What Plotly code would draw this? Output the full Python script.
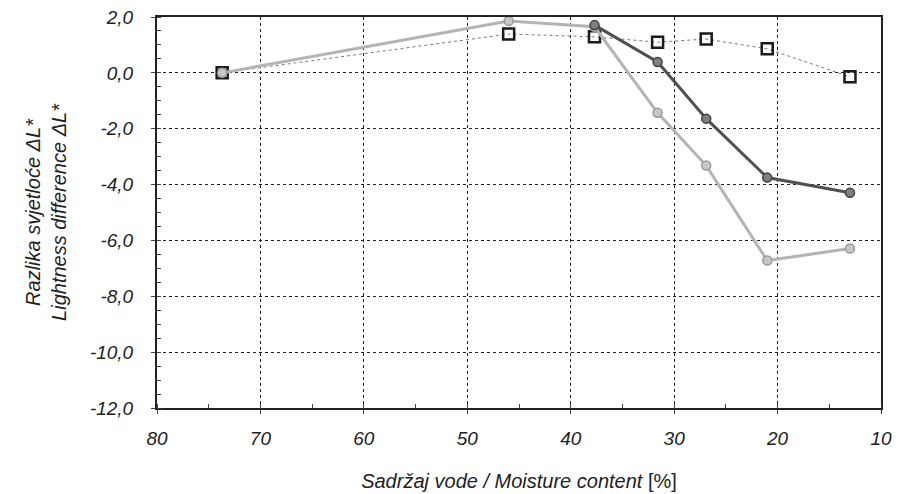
import plotly.graph_objects as go

moisture = [73.7, 46.0, 37.7, 31.6, 26.9, 21.0, 13.0]
series_squares = [0.0, 1.39, 1.29, 1.10, 1.21, 0.86, -0.14]
series_dark = [0.0, 1.86, 1.71, 0.39, -1.64, -3.75, -4.29]
series_light = [0.0, 1.86, 1.65, -1.43, -3.32, -6.72, -6.29]

x_ticks = [80, 70, 60, 50, 40, 30, 20, 10]
y_ticks = [2, 0, -2, -4, -6, -8, -10, -12]

fig = go.Figure()
fig.add_trace(go.Scatter(
    x=moisture, y=series_squares, mode="lines+markers",
    line=dict(color="#7a7a7a", width=1, dash="dot"),
    marker=dict(symbol="square-open", size=11, color="#1a1a1a", line=dict(width=2.5)),
    showlegend=False))
fig.add_trace(go.Scatter(
    x=moisture, y=series_light, mode="lines+markers",
    line=dict(color="#b4b4b4", width=3),
    marker=dict(symbol="circle", size=9, color="#c8c8c8", line=dict(color="#9a9a9a", width=1.5)),
    showlegend=False))
fig.add_trace(go.Scatter(
    x=moisture[2:], y=series_dark[2:], mode="lines+markers",
    line=dict(color="#505050", width=3),
    marker=dict(symbol="circle", size=9, color="#808080", line=dict(color="#404040", width=1.5)),
    showlegend=False))

font_family = "Liberation Sans, Arial, sans-serif"
fig.update_layout(
    width=899, height=494,
    margin=dict(l=157, r=18, t=17, b=86, autoexpand=False),
    paper_bgcolor="white", plot_bgcolor="white",
    font=dict(family=font_family, color="#222222"),
    xaxis=dict(
        range=[80, 10], tickvals=x_ticks, ticktext=[str(v) for v in x_ticks],
        automargin=False,
        showgrid=True, gridcolor="#222222", griddash="dot", gridwidth=1,
        showline=True, linecolor="#222222", linewidth=2, mirror=True,
        ticks="outside", ticklen=4, tickcolor="#444444", ticklabelstandoff=8,
        minor=dict(dtick=5, ticks="inside", ticklen=4, tickcolor="#444444", showgrid=False),
        tickfont=dict(size=19, style="italic"), zeroline=False,
        title=dict(text="<i>Sadržaj vode / Moisture content</i> [%]", font=dict(size=20), standoff=26),
    ),
    yaxis=dict(
        range=[-12, 2], tickvals=y_ticks,
        ticktext=[f"{v:.1f}".replace(".", ",") for v in y_ticks],
        automargin=False,
        showgrid=True, gridcolor="#222222", griddash="dot", gridwidth=1,
        showline=True, linecolor="#222222", linewidth=2, mirror=True,
        ticks="outside", ticklen=4, tickcolor="#444444", ticklabelstandoff=14,
        minor=dict(dtick=0.5, ticks="inside", ticklen=4, tickcolor="#444444", showgrid=False),
        tickfont=dict(size=19, style="italic"), zeroline=False,
        title=dict(text="<i>Razlika svjetloće ΔL*</i><br><i>Lightness difference ΔL*</i>",
                   font=dict(size=20), standoff=18),
    ),
)

fig.write_html("out.html")
